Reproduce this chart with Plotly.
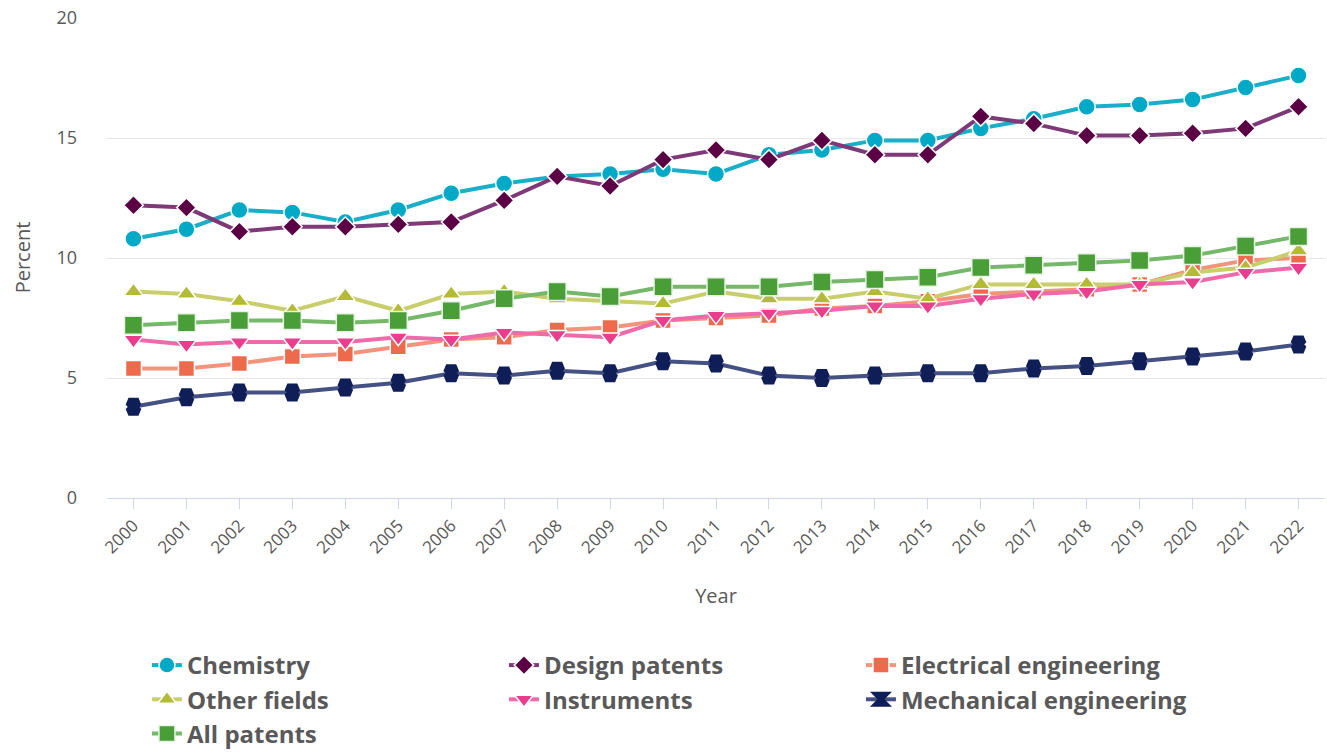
import plotly.graph_objects as go

years = list(range(2000, 2023))

chemistry = [10.8, 11.2, 12.0, 11.9, 11.5, 12.0, 12.7, 13.1, 13.4, 13.5, 13.7, 13.5, 14.3, 14.5, 14.9, 14.9, 15.4, 15.8, 16.3, 16.4, 16.6, 17.1, 17.6]
design = [12.2, 12.1, 11.1, 11.3, 11.3, 11.4, 11.5, 12.4, 13.4, 13.0, 14.1, 14.5, 14.1, 14.9, 14.3, 14.3, 15.9, 15.6, 15.1, 15.1, 15.2, 15.4, 16.3]
electrical = [5.4, 5.4, 5.6, 5.9, 6.0, 6.3, 6.6, 6.7, 7.0, 7.1, 7.4, 7.5, 7.6, 7.9, 8.0, 8.2, 8.5, 8.6, 8.7, 8.9, 9.5, 9.9, 10.0]
other = [8.6, 8.5, 8.2, 7.8, 8.4, 7.8, 8.5, 8.6, 8.3, 8.2, 8.1, 8.6, 8.3, 8.3, 8.6, 8.3, 8.9, 8.9, 8.9, 8.9, 9.4, 9.6, 10.3]
instruments = [6.6, 6.4, 6.5, 6.5, 6.5, 6.7, 6.6, 6.9, 6.8, 6.7, 7.4, 7.6, 7.7, 7.8, 8.0, 8.0, 8.3, 8.5, 8.6, 8.9, 9.0, 9.4, 9.6]
mechanical = [3.8, 4.2, 4.4, 4.4, 4.6, 4.8, 5.2, 5.1, 5.3, 5.2, 5.7, 5.6, 5.1, 5.0, 5.1, 5.2, 5.2, 5.4, 5.5, 5.7, 5.9, 6.1, 6.4]
all_patents = [7.2, 7.3, 7.4, 7.4, 7.3, 7.4, 7.8, 8.3, 8.6, 8.4, 8.8, 8.8, 8.8, 9.0, 9.1, 9.2, 9.6, 9.7, 9.8, 9.9, 10.1, 10.5, 10.9]

series = [
    ("Chemistry", chemistry, "#00a9c6", "#1aafc8", "circle", 17),
    ("Design patents", design, "#5c0045", "#7d3a77", "diamond", 15),
    ("Electrical engineering", electrical, "#ed6a4d", "#f2937b", "square", 16),
    ("Other fields", other, "#b3ba34", "#c9ce6c", "triangle-up", 17),
    ("Instruments", instruments, "#e93e8e", "#ef6aa9", "triangle-down", 17),
    ("Mechanical engineering", mechanical, "#0f1e56", "#455182", "hourglass", 10),
    ("All patents", all_patents, "#4a9e37", "#75b869", "square", 18),
]

fig = go.Figure()
for name, vals, mcol, lcol, sym, size in series:
    if sym == "hourglass":
        marker = dict(symbol=sym, size=size, color=mcol, line=dict(color=mcol, width=8))
    elif name == "All patents":
        marker = dict(symbol=sym, size=size, color=mcol, line=dict(color="#e8f3e5", width=1.5))
    else:
        marker = dict(symbol=sym, size=size, color=mcol, line=dict(color="#ffffff", width=1.5))
    fig.add_trace(go.Scatter(
        x=years, y=vals, name=name, mode="lines+markers",
        line=dict(color=lcol, width=4),
        marker=marker,
    ))

fig.update_layout(
    width=1327, height=754,
    paper_bgcolor="white", plot_bgcolor="white",
    margin=dict(l=107, r=2, t=17, b=256),
    font=dict(family="Open Sans", color="#595959", size=18),
    showlegend=True,
    legend=dict(
        orientation="h", x=0.0328, xanchor="left",
        yref="container", y=1 - 643 / 754, yanchor="top",
        font=dict(family="Open Sans", size=24, color="#595959", weight="bold"),
        entrywidth=312, entrywidthmode="pixels",
        itemwidth=30,
    ),
    xaxis=dict(
        range=[1999.5, 2022.5],
        tickmode="array", tickvals=years, ticktext=[str(y) for y in years],
        tickangle=-45, tickfont=dict(size=17, color="#595959"),
        ticks="outside", ticklen=10, tickcolor="#ccd6eb", tickwidth=1,
        showline=True, linecolor="#ccd6eb", linewidth=1,
        showgrid=False, zeroline=False, automargin=False,
        title=dict(text="Year", font=dict(size=20, color="#595959"), standoff=32),
    ),
    yaxis=dict(
        range=[0, 20.0417], tickvals=[0, 5, 10, 15, 20],
        tickfont=dict(size=18, color="#595959"),
        ticklabeloverflow="allow", automargin=False,
        showgrid=True, gridcolor="#e6e6e6", gridwidth=1,
        zeroline=False, showline=False, ticks="",
        ticklabelstandoff=29,
        title=dict(text="Percent", font=dict(size=20, color="#595959"), standoff=20),
    ),
)

# remove the browser's default 8px body margin so the figure sits at the window's corner
fig.write_html("out.html", config={"displayModeBar": False},
               post_script="document.body.style.margin='0';")
